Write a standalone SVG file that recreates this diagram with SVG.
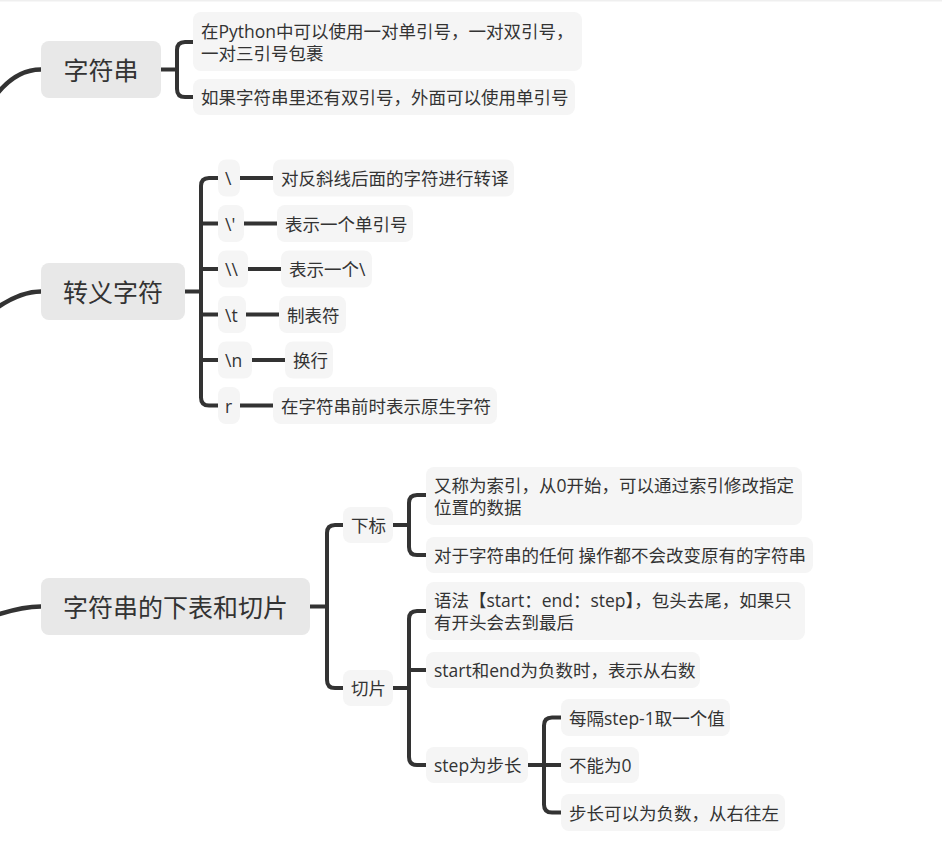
<svg xmlns="http://www.w3.org/2000/svg" width="942" height="851" viewBox="0 0 942 851">
<style>
.bg{fill:#ffffff}
.topline{fill:#efefef}
.main rect{fill:#e8e8e8}
.main text{font-family:"Open Sans","Noto Sans CJK SC",sans-serif;font-size:25px;fill:#333333;text-anchor:middle;dominant-baseline:central}
.sub rect{fill:#f5f5f5}
.sub text{font-family:"Open Sans","Noto Sans CJK SC",sans-serif;font-size:17.5px;fill:#333333;dominant-baseline:central}
.conn path{fill:none;stroke:#333333;stroke-width:4;stroke-linecap:butt}
.conn path.root{stroke-width:4.5}
</style>
<rect class="bg" x="0" y="0" width="942" height="851"/>
<rect class="topline" x="0" y="0" width="942" height="1.5"/>

<g id="connectors" class="conn">
  <!-- root curves -->
  <path class="root" d="M-20 122 Q5 69.5 41 69.5"/>
  <path class="root" d="M-30 330 Q10 291.5 41 291.5"/>
  <path class="root" d="M-40 630 Q10 606.5 41 606.5"/>
  <!-- section 1 -->
  <path d="M161 69.5 H177"/>
  <path d="M193 42 H185 Q177 42 177 50 V89 Q177 97 185 97 H193"/>
  <!-- section 2 -->
  <path d="M185 291.5 H201"/>
  <path d="M218 178 H209 Q201 178 201 186 V397.5 Q201 405.5 209 405.5 H218"/>
  <path d="M201 223.5 H218"/>
  <path d="M201 269 H218"/>
  <path d="M201 314.5 H218"/>
  <path d="M201 360 H218"/>
  <path d="M240 178 H273"/>
  <path d="M244 223.5 H277"/>
  <path d="M248 269 H281"/>
  <path d="M246 314.5 H279"/>
  <path d="M252 360 H285"/>
  <path d="M240 405.5 H273"/>
  <!-- section 3 -->
  <path d="M310 606.5 H327"/>
  <path d="M343 525 H335 Q327 525 327 533 V680 Q327 688 335 688 H343"/>
  <path d="M393 525 H409"/>
  <path d="M426 495 H417 Q409 495 409 503 V547 Q409 555 417 555 H426"/>
  <path d="M393 688 H409"/>
  <path d="M426 611 H417 Q409 611 409 619 V757 Q409 765 417 765 H426"/>
  <path d="M409 670 H426"/>
  <path d="M528 765 H544"/>
  <path d="M561 717.5 H552 Q544 717.5 544 725.5 V804.5 Q544 812.5 552 812.5 H561"/>
  <path d="M544 765 H561"/>
</g>

<!-- section 1 -->
<g id="n-zifuchuan" class="main">
  <rect x="41" y="41" width="120" height="57" rx="8"/>
  <text x="101" y="69.5">字符串</text>
</g>
<g id="n-s1-a" class="sub">
  <rect x="193" y="12" width="389" height="59" rx="8"/>
  <text x="201" y="31">在Python中可以使用一对单引号，一对双引号，</text>
  <text x="201" y="53">一对三引号包裹</text>
</g>
<g id="n-s1-b" class="sub">
  <rect x="193" y="79" width="382" height="36" rx="8"/>
  <text x="201" y="97">如果字符串里还有双引号，外面可以使用单引号</text>
</g>

<!-- section 2 -->
<g id="n-zhuanyi" class="main">
  <rect x="41" y="263" width="144" height="57" rx="8"/>
  <text x="113" y="291.5">转义字符</text>
</g>
<g id="k1" class="sub"><rect x="218" y="159.5" width="22" height="37" rx="8"/><text x="225" y="178">\</text></g>
<g id="v1" class="sub"><rect x="273" y="159.5" width="241" height="37" rx="8"/><text x="281" y="178">对反斜线后面的字符进行转译</text></g>
<g id="k2" class="sub"><rect x="218" y="205" width="26" height="37" rx="8"/><text x="225" y="223.5">\'</text></g>
<g id="v2" class="sub"><rect x="277" y="205" width="136" height="37" rx="8"/><text x="285" y="223.5">表示一个单引号</text></g>
<g id="k3" class="sub"><rect x="218" y="250.5" width="30" height="37" rx="8"/><text x="225" y="269">\\</text></g>
<g id="v3" class="sub"><rect x="281" y="250.5" width="91" height="37" rx="8"/><text x="289" y="269">表示一个\</text></g>
<g id="k4" class="sub"><rect x="218" y="296" width="28" height="37" rx="8"/><text x="225" y="314.5">\t</text></g>
<g id="v4" class="sub"><rect x="279" y="296" width="67" height="37" rx="8"/><text x="287" y="314.5">制表符</text></g>
<g id="k5" class="sub"><rect x="218" y="341.5" width="34" height="37" rx="8"/><text x="225" y="360">\n</text></g>
<g id="v5" class="sub"><rect x="285" y="341.5" width="48" height="37" rx="8"/><text x="293" y="360">换行</text></g>
<g id="k6" class="sub"><rect x="218" y="387" width="22" height="37" rx="8"/><text x="225" y="405.5">r</text></g>
<g id="v6" class="sub"><rect x="273" y="387" width="224" height="37" rx="8"/><text x="281" y="405.5">在字符串前时表示原生字符</text></g>

<!-- section 3 -->
<g id="n-qiepian-main" class="main">
  <rect x="41" y="578" width="269" height="57" rx="8"/>
  <text x="175.5" y="606.5">字符串的下表和切片</text>
</g>
<g id="n-xiabiao" class="sub"><rect x="343" y="507" width="50" height="36" rx="8"/><text x="351" y="525">下标</text></g>
<g id="n-qiepian" class="sub"><rect x="343" y="670" width="50" height="36" rx="8"/><text x="351" y="688">切片</text></g>
<g id="n-suoyin" class="sub">
  <rect x="426" y="467" width="376" height="58" rx="8"/>
  <text x="434" y="485">又称为索引，从0开始，可以通过索引修改指定</text>
  <text x="434" y="507">位置的数据</text>
</g>
<g id="n-bubian" class="sub"><rect x="426" y="537" width="387" height="36" rx="8"/><text x="434" y="555">对于字符串的任何 操作都不会改变原有的字符串</text></g>
<g id="n-yufa" class="sub">
  <rect x="426" y="582" width="379" height="58" rx="8"/>
  <text x="434" y="600">语法【start：end：step】，包头去尾，如果只</text>
  <text x="434" y="622">有开头会去到最后</text>
</g>
<g id="n-fushu" class="sub"><rect x="426" y="652" width="274" height="36" rx="8"/><text x="434" y="670">start和end为负数时，表示从右数</text></g>
<g id="n-step" class="sub"><rect x="426" y="747" width="102" height="36" rx="8"/><text x="434" y="765">step为步长</text></g>
<g id="n-meige" class="sub"><rect x="561" y="699" width="169" height="37" rx="8"/><text x="569" y="717.5">每隔step-1取一个值</text></g>
<g id="n-bunengwei0" class="sub"><rect x="561" y="747" width="78" height="36" rx="8"/><text x="569" y="765">不能为0</text></g>
<g id="n-fubuchang" class="sub"><rect x="561" y="794" width="224" height="37" rx="8"/><text x="569" y="812.5">步长可以为负数，从右往左</text></g>
</svg>
